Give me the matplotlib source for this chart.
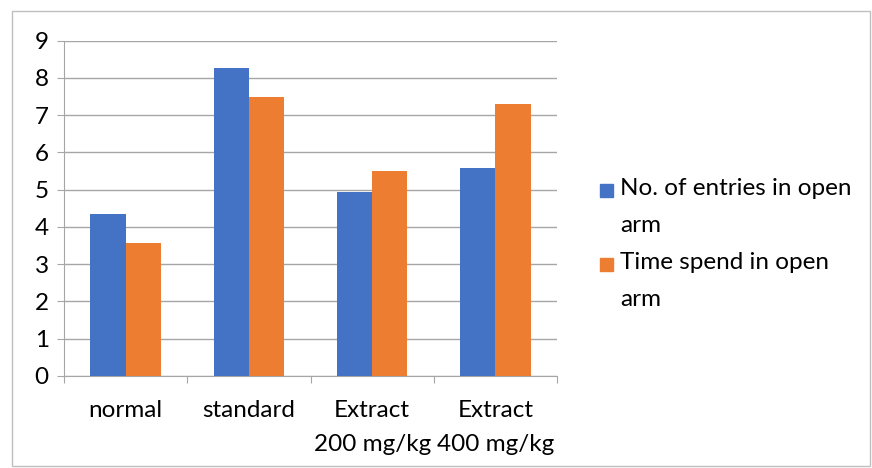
import numpy as np
import matplotlib.pyplot as plt
from matplotlib.patches import Rectangle

# values
groups = ['normal', 'standard', 'Extract\n200 mg/kg', 'Extract\n400 mg/kg']
entries = [4.35, 8.27, 4.95, 5.57]
time_spent = [3.57, 7.49, 5.50, 7.30]
series_names = ['No. of entries in open\narm', 'Time spend in open\narm']
colors = ['#4472C4', '#ED7D31']

plt.rcParams['font.family'] = ['Lato', 'DejaVu Sans']
fs = 17.5

fig = plt.figure(figsize=(8.72, 4.68), dpi=100)
W, H = 872, 468
ax = fig.add_axes([64 / W, (H - 376) / H, (557 - 64) / W, (376 - 40.7) / H])

x = np.arange(len(groups))
bw = 0.285
ax.bar(x - bw / 2, entries, bw, color=colors[0], zorder=3)
ax.bar(x + bw / 2, time_spent, bw, color=colors[1], zorder=3)

ax.set_xlim(-0.5, len(groups) - 0.5)
ax.set_ylim(0, 9)
ax.set_yticks(range(0, 10))
ax.yaxis.grid(True, color='#a6a6a6', linewidth=1, zorder=0)

# category labels sit between boundary ticks
ax.set_xticks(np.arange(-0.5, len(groups)), minor=False)
ax.set_xticklabels([])
ax.set_xticks(x, minor=True)
ax.set_xticklabels(groups, minor=True, fontsize=fs, linespacing=1.8)
ax.tick_params(axis='x', which='minor', length=0, pad=17)
ax.tick_params(axis='x', which='major', length=5, color='#a6a6a6')
ax.tick_params(axis='y', length=5, color='#a6a6a6', labelsize=fs, pad=6)

for s in ['top', 'right']:
    ax.spines[s].set_visible(False)
for s in ['left', 'bottom']:
    ax.spines[s].set_color('#a6a6a6')

# legend with handles aligned to the first text line
leg_y = [190, 264]
for name, c, yy in zip(series_names, colors, leg_y):
    fig.patches.append(Rectangle((600 / W, (H - yy - 7) / H), 13 / W, 13 / H,
                                 transform=fig.transFigure, color=c))
    fig.text(620 / W, (H - yy + 12) / H, name, fontsize=fs, va='top',
             linespacing=1.95, transform=fig.transFigure)

# chart border
fig.patches.append(Rectangle((12 / W, 2 / H), 858 / W, (455) / H,
                             transform=fig.transFigure, fill=False,
                             edgecolor='#bfbfbf', linewidth=1))

fig.savefig('out.png', dpi=100)
